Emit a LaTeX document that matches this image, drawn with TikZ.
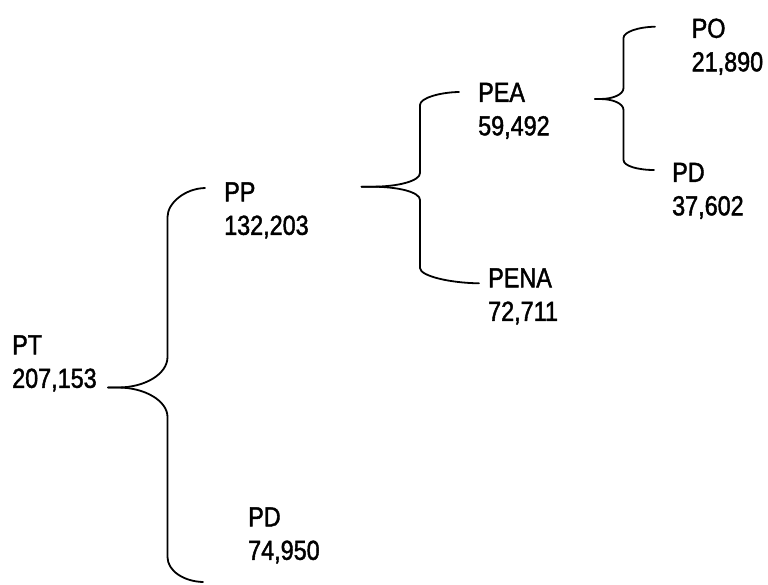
\documentclass[tikz,border=0pt]{standalone}
\usepackage{fontspec}
\setmainfont{Liberation Sans}[FakeStretch=0.85,FakeBold=1.5]
\begin{document}
\begin{tikzpicture}[x=1pt,y=-1pt,
  lbl/.style={anchor=south west,inner sep=0pt,text depth=0pt,align=left,
    font={\fontsize{27.5}{33.5}\selectfont}},
  br/.style={draw=black,line width=1.8pt,line cap=round,line join=round}]
\useasboundingbox (0,0) rectangle (768,584);
% labels (anchored at the baseline of the second line)
\node[lbl] (PT)   at (12,388)  {PT\\207,153};
\node[lbl] (PP)   at (224,235) {PP\\132,203};
\node[lbl] (PD1)  at (248,560) {PD\\74,950};
\node[lbl] (PEA)  at (478,135.5) {PEA\\59,492};
\node[lbl] (PENA) at (488,321) {PENA\\72,711};
\node[lbl] (PO)   at (691.5,71.5)  {PO\\21,890};
\node[lbl] (PD2)  at (672,215.5) {PD\\37,602};
% brace end points
\coordinate (t1) at (108,387.5);
\coordinate (a1) at (205,188);
\coordinate (b1) at (203,582);
\coordinate (t2) at (361.5,186.7);
\coordinate (a2) at (459,92);
\coordinate (b2) at (479,283.3);
\coordinate (t3) at (595,99);
\coordinate (a3) at (655,26.7);
\coordinate (b3) at (654,170);
% brace PT -> PP / PD
\path[br] (a1) .. controls (185,188.5) and (167.5,203) .. (167.5,217) -- (167.5,357)
  .. controls (167.5,374) and (145,387.5) .. (118,387.5) -- (t1);
\path[br] (t1) -- (118,387.5) .. controls (145,387.5) and (167.5,401) .. (167.5,417)
  -- (167.5,557) .. controls (167.5,571) and (184,581.5) .. (b1);
% brace PP -> PEA / PENA
\path[br] (a2) .. controls (440,92.3) and (420,98) .. (420,105) -- (420,173)
  .. controls (420,181) and (398,186.7) .. (372,186.7) -- (t2);
\path[br] (t2) -- (372,186.7) .. controls (398,186.7) and (420,192) .. (420,200)
  -- (420,268) .. controls (420,276) and (450,283) .. (b2);
% brace PEA -> PO / PD
\path[br] (a3) .. controls (638,27) and (623.5,32) .. (623.5,38) -- (623.5,88)
  .. controls (623.5,94.5) and (613,99) .. (600,99) -- (t3);
\path[br] (t3) -- (600,99) .. controls (613,99) and (623.5,103.5) .. (623.5,110)
  -- (623.5,160) .. controls (623.5,166) and (638,170) .. (b3);
\end{tikzpicture}
\end{document}
